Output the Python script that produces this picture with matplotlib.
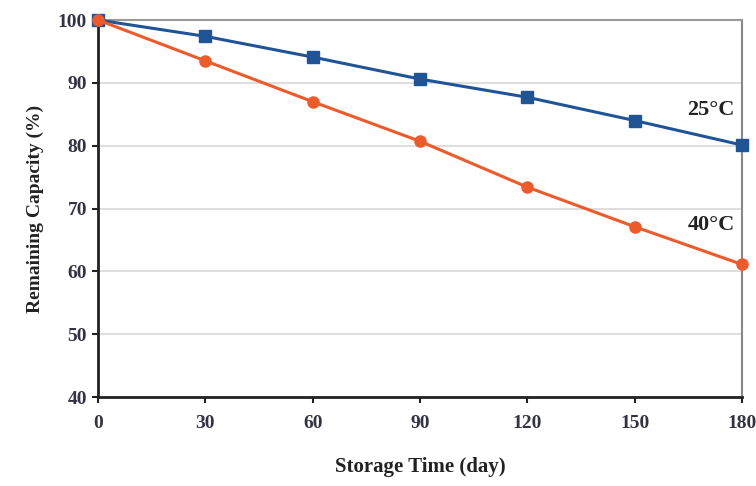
import matplotlib
matplotlib.use("Agg")
import matplotlib.pyplot as plt

days = [0, 30, 60, 90, 120, 150, 180]
cap_25 = [100, 97.4, 94.1, 90.6, 87.7, 84.0, 80.1]
cap_40 = [100, 93.5, 87.0, 80.7, 73.4, 67.1, 61.1]
x_ticks = [0, 30, 60, 90, 120, 150, 180]
y_ticks = [40, 50, 60, 70, 80, 90, 100]

plt.rcParams['font.family'] = ['Liberation Serif', 'DejaVu Serif']

fig = plt.figure(figsize=(7.56, 4.86), dpi=100)
ax = fig.add_axes([98/756, 1-397/486, (742-98)/756, (397-20)/486])

ax.plot(days, cap_25, color='#1F5597', lw=2.2, marker='s', ms=8, zorder=3, clip_on=False)
ax.plot(days, cap_40, color='#EE5A2A', lw=2.2, marker='o', ms=8, zorder=3, clip_on=False)

ax.set_xlim(0, 180)
ax.set_ylim(40, 100)
ax.set_xticks(x_ticks)
ax.set_yticks(y_ticks)
ax.tick_params(axis='both', direction='out', length=4, width=1.5, labelsize=14, colors='#222222')
ax.tick_params(axis='x', pad=9)
ax.tick_params(axis='y', pad=4)
for lab in ax.get_xticklabels() + ax.get_yticklabels():
    lab.set_fontweight('bold')
    lab.set_color('#333344')
ax.grid(axis='y', color='#d8d8d8', lw=1.2)
ax.set_axisbelow(True)

ax.spines['left'].set_linewidth(2)
ax.spines['bottom'].set_linewidth(2)
ax.spines['left'].set_color('#222222')
ax.spines['bottom'].set_color('#222222')
ax.spines['top'].set_color('#999999')
ax.spines['right'].set_color('#888888')
ax.spines['top'].set_linewidth(1.5)
ax.spines['right'].set_linewidth(1.5)

ax.text(178, 85.6, '25°C', ha='right', va='center', fontsize=16, fontweight='bold', color='#222222')
ax.text(178, 67.3, '40°C', ha='right', va='center', fontsize=16, fontweight='bold', color='#222222')

ax.set_xlabel('Storage Time (day)', fontsize=15, fontweight='bold', labelpad=18, color='#222222')
ax.set_ylabel('Remaining Capacity (%)', fontsize=14, fontweight='bold', labelpad=10, color='#222222')

fig.savefig('out.png', dpi=100)
